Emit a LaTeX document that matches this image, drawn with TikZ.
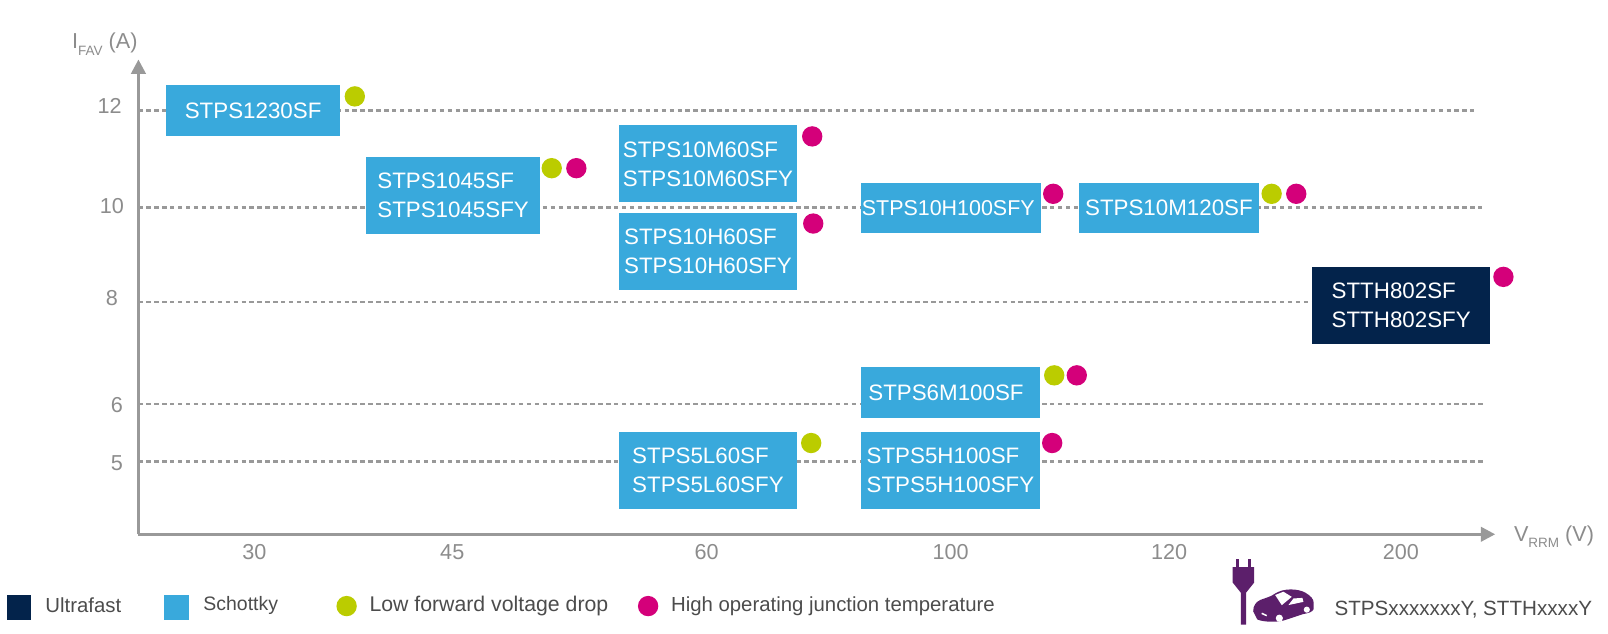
\documentclass[tikz,border=0pt]{standalone}
\usepackage{fontspec}
\setmainfont{Liberation Sans}
\usetikzlibrary{arrows.meta}
\definecolor{boxblue}{HTML}{39A9DC}
\definecolor{boxnavy}{HTML}{03234B}
\definecolor{dotgreen}{HTML}{BBCC00}
\definecolor{dotpink}{HTML}{D4007A}
\definecolor{axisgray}{HTML}{999999}
\definecolor{labelgray}{HTML}{8C8C8C}
\definecolor{iconpurple}{HTML}{5C1F6B}
\tikzset{
	partbox/.style={fill=boxblue,text=white,anchor=north west,inner sep=0pt,align=left,font=\fontsize{12.4}{16.2}\selectfont},
	fastbox/.style={partbox,fill=boxnavy},
	legendsquare/.style={anchor=north west,inner sep=0pt,minimum size=0.48cm},
	lowdrop/.style={circle,fill=dotgreen,minimum size=11.3pt,inner sep=0pt},
	hightemp/.style={circle,fill=dotpink,minimum size=11.3pt,inner sep=0pt},
	axisline/.style={draw=axisgray,line width=1.7pt,-{Triangle[length=8pt,width=8pt]}},
	gridline/.style={draw=axisgray,line width=1.6pt,dash pattern=on 2.4pt off 2pt},
	ticklabel/.style={text=labelgray,font=\fontsize{12}{14}\selectfont},
	legendlabel/.style={text=black!70,anchor=west,inner sep=0pt,font=\fontsize{11.3}{13}\selectfont},
}
\begin{document}
\begin{tikzpicture}[x=0.02cm,y=-0.02cm]
	\useasboundingbox (0,0) rectangle (1568,617.3);
	% axes
	\coordinate (origin) at (135,521);
	\coordinate (ytop) at (135,58);
	\coordinate (xend) at (1458,521);
	\draw[axisline] (origin) -- (ytop);
	\draw[axisline] (origin) -- (xend);
	% dotted levels
	\foreach \name/\ypos/\xend in {twelve/108/1437,ten/202/1445,eight/294.5/1282,six/394/1447,five/450/1447} {
		\coordinate (\name-a) at (135,\ypos);
		\coordinate (\name-b) at (\xend,\ypos);
		\draw[gridline] (\name-a) -- (\name-b);
	}
	% parts
	\node[partbox,minimum width=3.38cm,minimum height=0.98cm] (p1230) at (162,83) {STPS1230SF};
	\node[partbox,minimum width=3.38cm,minimum height=1.5cm] (p1045) at (357,153) {STPS1045SF\\STPS1045SFY};
	\node[partbox,minimum width=3.48cm,minimum height=1.5cm] (p10m60) at (603,122) {STPS10M60SF\\STPS10M60SFY};
	\node[partbox,minimum width=3.48cm,minimum height=1.5cm] (p10h60) at (603,207) {STPS10H60SF\\STPS10H60SFY};
	\node[partbox,minimum width=3.52cm,minimum height=0.98cm,font=\fontsize{11.9}{16.2}\selectfont] (p10h100) at (839,178) {\hspace*{-3pt}STPS10H100SFY};
	\node[partbox,minimum width=3.5cm,minimum height=0.98cm] (p10m120) at (1052,178) {STPS10M120SF};
	\node[fastbox,minimum width=3.48cm,minimum height=1.5cm] (p802) at (1279,260) {STTH802SF\\STTH802SFY};
	\node[partbox,minimum width=3.5cm,minimum height=0.98cm] (p6m100) at (839,358) {\hspace*{-5pt}STPS6M100SF};
	\node[partbox,minimum width=3.48cm,minimum height=1.5cm] (p5l60) at (603,421) {STPS5L60SF\\STPS5L60SFY};
	\node[partbox,minimum width=3.5cm,minimum height=1.5cm] (p5h100) at (839,421) {STPS5H100SF\\STPS5H100SFY};
	% markers
	\foreach \xpos/\ypos [count=\i] in {346/94,538/164,1240/189,1028/366,791/432}
		\node[lowdrop] (low\i) at (\xpos,\ypos) {};
	\foreach \xpos/\ypos [count=\i] in {562/164,792/133,793/218,1027/189,1264/189,1466/270,1050/366,1026/432}
		\node[hightemp] (high\i) at (\xpos,\ypos) {};
	% axis labels
	\foreach \txt/\xpos/\ypos [count=\i] in {12/107/103,10/109/201,8/109/291,6/114/395,5/114/452}
		\node[ticklabel] (ylab\i) at (\xpos,\ypos) {\txt};
	\foreach \txt/\xpos [count=\i] in {30/248,45/441,60/689,100/927,120/1140,200/1366}
		\node[ticklabel] (xlab\i) at (\xpos,538) {\txt};
	\node[ticklabel,anchor=west,inner sep=0pt] (ylabel) at (70,43) {I\raisebox{-0.55ex}{\fontsize{7.5}{9}\selectfont FAV} (A)};
	\node[ticklabel,anchor=west,inner sep=0pt] (xlabel) at (1476,523) {V\raisebox{-0.55ex}{\fontsize{7.5}{9}\selectfont RRM} (V)};
	% legend
	\node[legendsquare,fill=boxnavy] (legfastbox) at (6,580) {};
	\node[legendlabel] (legfast) at (44,590) {Ultrafast};
	\node[legendsquare,fill=boxblue] (legschottkybox) at (160,580) {};
	\node[legendlabel,font=\fontsize{10.8}{13}\selectfont] (legschottky) at (198,590) {Schottky};
	\node[lowdrop] (leglow) at (338,591) {};
	\node[legendlabel,font=\fontsize{11.8}{13}\selectfont] (leglowtxt) at (360,591) {Low forward voltage drop};
	\node[hightemp] (leghigh) at (632,591) {};
	\node[legendlabel] (leghightxt) at (654,591) {High operating junction temperature};
	\node[legendlabel,font=\fontsize{11.45}{13}\selectfont] (legauto) at (1301,594) {STPSxxxxxxxY, STTHxxxxY};
	% plug
	\fill[iconpurple] (1205.5,545) rectangle (1208.5,554);
	\fill[iconpurple] (1216.5,545) rectangle (1219.5,554);
	\fill[iconpurple] (1202,553) -- (1223,553) -- (1223,568) -- (1215,578) -- (1215,609) -- (1210,609) -- (1210,578) -- (1202,568) -- cycle;
	% car
	\fill[iconpurple] (1222,596) .. controls (1222,590) and (1225,587) .. (1229,585)
		.. controls (1234,583) and (1239,582) .. (1243,579)
		.. controls (1252,573) and (1266,574) .. (1273,578)
		.. controls (1278,581) and (1281,584) .. (1281,588) -- (1281,594)
		.. controls (1280,597) and (1275,598) .. (1270,599)
		-- (1255,604) .. controls (1248,607) and (1232,607) .. (1226,604) -- cycle;
	\fill[white] (1243.4,580.2) -- (1251.5,577) -- (1259.6,582) -- (1249.9,590.1) -- cycle;
	\fill[white] (1256.4,590) -- (1261.3,583.6) -- (1270,583) -- (1271,586.9) -- cycle;
	\fill[white] (1247.5,602.8) circle (3.5);
	\fill[white] (1274.3,594.5) circle (3);
	\fill[white] (1230.6,597.4) -- (1235.5,599.7) -- (1235,601) -- (1230,598.8) -- cycle;
\end{tikzpicture}
\end{document}
